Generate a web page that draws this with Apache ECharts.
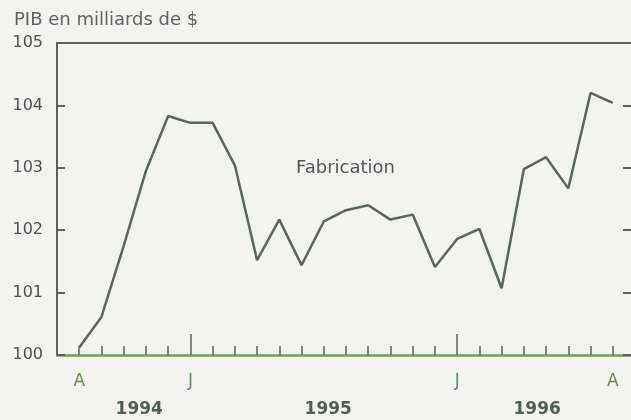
<!DOCTYPE html>
<html>
<head>
<meta charset="utf-8">
<script src="https://cdn.jsdelivr.net/npm/echarts@6/dist/echarts.min.js"></script>
<style>
html,body{margin:0;padding:0;background:#f3f3f1;}
#c{width:631px;height:420px;}
</style>
</head>
<body>
<div id="c"></div>
<script>
// Months from août 1994 to août 1996
const months = ['A94','S94','O94','N94','D94','J95','F95','M95','A95','M95','J95','J95','A95','S95','O95','N95','D95','J96','F96','M96','A96','M96','J96','J96','A96'];
// PIB fabrication (milliards de $)
const values = [100.12, 100.61, 101.75, 102.95, 103.83, 103.72, 103.72, 103.04, 101.52, 102.17, 101.44, 102.14, 102.32, 102.40, 102.17, 102.25, 101.41, 101.86, 102.02, 101.07, 102.98, 103.17, 102.67, 104.20, 104.04];
const monthLabels = ['A', 'J', 'J', 'A'];
const monthLabelIdx = [0, 5, 17, 24];
const januaryIdx = [5, 17];
const yearLabels = ['1994', '1995', '1996'];
const yearLabelIdx = [2.7, 11.2, 20.6];
const yTicks = [100, 101, 102, 103, 104, 105];

const data = months.map((m, i) => [i, values[i]]);
const FONT = 'DejaVu Sans';
const dark = '#58645b';

const chart = echarts.init(document.getElementById('c'), null, {renderer: 'canvas'});
chart.setOption({
  backgroundColor: '#f3f3f1',
  animation: false,
  title: {
    text: 'PIB en milliards de $',
    left: 9, top: 6,
    textStyle: {fontFamily: FONT, fontSize: 18, fontWeight: 'normal', color: '#616161'}
  },
  grid: {left: 57, top: 43, width: 578, height: 312, outerBoundsMode: 'none', containLabel: false},
  xAxis: [
    {
      type: 'value', min: -1, max: 25, interval: 1, position: 'bottom',
      splitLine: {show: false},
      axisLine: {onZero: false, lineStyle: {color: '#6aa34c', width: 2.5}},
      axisTick: {inside: true, length: 9, lineStyle: {color: dark, width: 1.5}},
      axisLabel: {
        customValues: monthLabelIdx,
        formatter: v => monthLabels[monthLabelIdx.indexOf(v)] || '',
        margin: 18, fontFamily: FONT, fontSize: 17, color: '#5f9147'
      }
    },
    {
      type: 'value', min: -1, max: 25, position: 'bottom',
      splitLine: {show: false},
      axisLine: {show: false, onZero: false},
      axisTick: {show: true, customValues: januaryIdx, inside: true, length: 21, lineStyle: {color: dark, width: 1.5}},
      axisLabel: {
        customValues: yearLabelIdx,
        formatter: v => yearLabels[yearLabelIdx.indexOf(v)] || '',
        margin: 46, fontFamily: FONT, fontSize: 17, fontWeight: 'bold', color: '#4f6052'
      }
    },
    {
      type: 'value', min: -1, max: 25, position: 'top',
      splitLine: {show: false},
      axisLine: {onZero: false, lineStyle: {color: dark, width: 2}},
      axisTick: {show: false}, axisLabel: {show: false}
    }
  ],
  yAxis: [
    {
      type: 'value', min: yTicks[0], max: yTicks[yTicks.length - 1], interval: 1, position: 'left',
      splitLine: {show: false},
      axisLine: {show: true, onZero: false, lineStyle: {color: dark, width: 2}},
      axisTick: {show: true, inside: true, length: 8, lineStyle: {color: dark, width: 2}},
      axisLabel: {margin: 14, fontFamily: FONT, fontSize: 16, color: '#505050'}
    },
    {
      type: 'value', min: yTicks[0], max: yTicks[yTicks.length - 1], interval: 1, position: 'right',
      splitLine: {show: false},
      axisLine: {show: true, onZero: false, lineStyle: {color: dark, width: 2}},
      axisTick: {show: true, inside: true, length: 12, lineStyle: {color: dark, width: 2}},
      axisLabel: {show: false}
    }
  ],
  graphic: [{
    type: 'text', left: 296, top: 159,
    style: {text: 'Fabrication', fontFamily: FONT, fontSize: 18, fill: '#555'}
  }],
  series: [{
    type: 'line', xAxisIndex: 0, yAxisIndex: 0,
    data: data, symbol: 'none', smooth: false,
    lineStyle: {color: '#5a675d', width: 2.5}
  }]
});
</script>
</body>
</html>
